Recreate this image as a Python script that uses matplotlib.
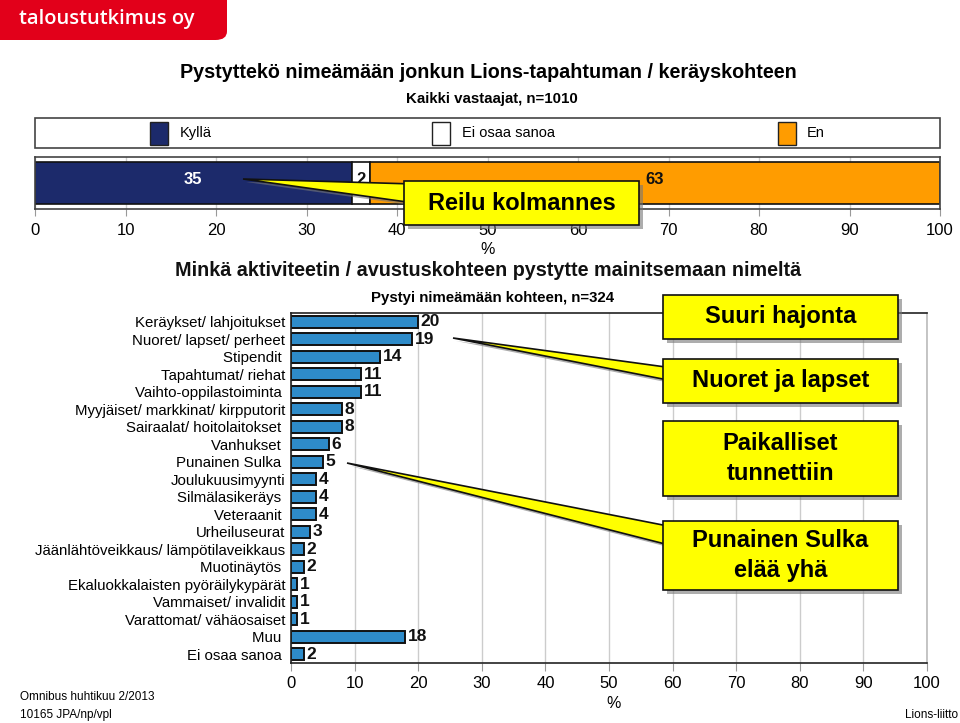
import matplotlib
matplotlib.use("Agg")
from matplotlib import pyplot as plt
from matplotlib.patches import Rectangle, Polygon, FancyBboxPatch
import numpy as np

W, H = 960, 723

# --- data -------------------------------------------------------------
top_labels = ["Kyllä", "Ei osaa sanoa", "En"]
top_values = [35, 2, 63]

categories = [
    "Keräykset/ lahjoitukset", "Nuoret/ lapset/ perheet", "Stipendit ",
    "Tapahtumat/ riehat", "Vaihto-oppilastoiminta ", "Myyjäiset/ markkinat/ kirpputorit",
    "Sairaalat/ hoitolaitokset ", "Vanhukset ", "Punainen Sulka ", "Joulukuusimyynti",
    "Silmälasikeräys ", "Veteraanit ", "Urheiluseurat",
    "Jäänlähtöveikkaus/ lämpötilaveikkaus", "Muotinäytös ",
    "Ekaluokkalaisten pyöräilykypärät", "Vammaiset/ invalidit",
    "Varattomat/ vähäosaiset", "Muu ", "Ei osaa sanoa ",
]
values = [20, 19, 14, 11, 11, 8, 8, 6, 5, 4, 4, 4, 3, 2, 2, 1, 1, 1, 18, 2]

x_ticks = [0, 10, 20, 30, 40, 50, 60, 70, 80, 90, 100]

# --- styles -------------------------------------------------------------
plt.rcParams['font.family'] = ['Liberation Sans', 'DejaVu Sans']
NARROW = ['Liberation Sans Narrow', 'Liberation Sans', 'DejaVu Sans']
top_colors = ['#1c2a6b', '#ffffff', '#ff9c00']
bar_blue = '#2e8bc9'
yellow = '#ffff00'


def fx(x):
    return x / W


def fy(y):
    return 1 - y / H


def fig_rect(x0, y0, x1, y1):
    # pixel box (top-left origin) -> figure axes rect
    return [fx(x0), fy(y1), fx(x1) - fx(x0), fy(y0) - fy(y1)]


fig = plt.figure(figsize=(W / 100, H / 100), dpi=100)

# logo
fig.patches.append(FancyBboxPatch((fx(-20), fy(40)), fx(247), fy(0) - fy(40) + 0.02,
                                  boxstyle="round,pad=0,rounding_size=0.012",
                                  transform=fig.transFigure, facecolor='#e2001a',
                                  edgecolor='none'))
fig.text(fx(19), fy(19), "taloustutkimus oy", color='white', fontsize=14.5,
         fontweight='semibold', ha='left', va='center', family=['Open Sans', 'DejaVu Sans'])

# titles
fig.text(fx(488), fy(72), "Pystyttekö nimeämään jonkun Lions-tapahtuman / keräyskohteen",
         ha='center', va='center', fontsize=14.2, fontweight='bold')
fig.text(fx(492), fy(99), "Kaikki vastaajat, n=1010", ha='center', va='center',
         fontsize=10.8, fontweight='bold')

# legend box
fig.patches.append(Rectangle((fx(35), fy(148)), fx(905), fy(118) - fy(148),
                             transform=fig.transFigure, facecolor='white',
                             edgecolor='#444444', lw=1.2))
leg_pos = [(150, 180), (432, 462), (778, 807)]
for (mx, tx), lab, col in zip(leg_pos, top_labels, top_colors):
    fig.patches.append(Rectangle((fx(mx), fy(145)), fx(18), fy(122) - fy(145),
                                 transform=fig.transFigure, facecolor=col,
                                 edgecolor='#222222', lw=1))
    fig.text(fx(tx), fy(133), lab, ha='left', va='center', fontsize=10.5, family=NARROW)

# --- top stacked bar -------------------------------------------------------
ax1 = fig.add_axes(fig_rect(35, 157, 940, 209))
left = 0
for v, col, lab in zip(top_values, top_colors, top_labels):
    ax1.barh(0, v, left=left, height=0.8, color=col, edgecolor='#111111', lw=1.2)
    txt_col = 'white' if lab == 'Kyllä' else '#111111'
    ax1.text(left + v / 2, 0.07, str(v), ha='center', va='center', color=txt_col,
             fontsize=12, fontweight='bold', family=NARROW)
    left += v
ax1.set_xlim(0, 100)
ax1.set_ylim(-0.5, 0.5)
ax1.set_yticks([])
ax1.set_xticks(x_ticks)
ax1.set_xticklabels([str(t) for t in x_ticks], family=NARROW, fontsize=12)
ax1.tick_params(axis='x', length=5, color='#999999', pad=5)
ax1.grid(axis='x', color='#cccccc', lw=1)
ax1.set_axisbelow(True)
for s in ax1.spines.values():
    s.set_color('#444444')
    s.set_linewidth(1.2)
fig.text(fx(488), fy(249), "%", ha='center', va='center', fontsize=11.5, family=NARROW)

fig.text(fx(488), fy(271), "Minkä aktiviteetin / avustuskohteen pystytte mainitsemaan nimeltä",
         ha='center', va='center', fontsize=14.2, fontweight='bold', color='#111111')
fig.text(fx(493), fy(298), "Pystyi nimeämään kohteen, n=324", ha='center', va='center',
         fontsize=10.8, fontweight='bold')

# --- bottom horizontal bars ---------------------------------------------
ax2 = fig.add_axes(fig_rect(291, 313, 927, 663))
y = np.arange(len(categories))
ax2.barh(y, values, height=0.7, color=bar_blue, edgecolor='#111111', lw=1.4)
for yi, v in zip(y, values):
    ax2.text(v + 0.4, yi, str(v), ha='left', va='center', fontsize=12.5,
             fontweight='bold', color='#111111')
ax2.set_ylim(len(categories) - 0.5, -0.5)
ax2.set_xlim(0, 100)
ax2.set_yticks(y)
ax2.set_yticklabels(categories, fontsize=10.8)
ax2.tick_params(axis='y', length=0, pad=4)
ax2.set_xticks(x_ticks)
ax2.set_xticklabels([str(t) for t in x_ticks], family=NARROW, fontsize=12)
ax2.tick_params(axis='x', length=6, color='#999999', pad=3)
ax2.grid(axis='x', color='#cccccc', lw=1)
ax2.set_axisbelow(True)
for name, s in ax2.spines.items():
    s.set_color('#222222' if name != 'right' else '#bbbbbb')
    s.set_linewidth(1.2)
fig.text(fx(614), fy(703), "%", ha='center', va='center', fontsize=11.5, family=NARROW)

# footer
fig.text(fx(20), fy(697), "Omnibus huhtikuu 2/2013", ha='left', va='center',
         fontsize=8.5, family=NARROW)
fig.text(fx(20), fy(715), "10165 JPA/np/vpl", ha='left', va='center', fontsize=8.5,
         family=NARROW)
fig.text(fx(958), fy(715), "Lions-liitto", ha='right', va='center', fontsize=8.5,
         family=NARROW)


# --- callouts -------------------------------------------------------------
def callout(box, text, size, tip=None, base=None):
    x0, y0, x1, y1 = box
    z = 10
    if tip is not None:
        pts = [tip, (x0 + 10, base[0]), (x0 + 10, base[1])]
        sh = [(px + 3, py + 3) for px, py in pts]
        fig.patches.append(Polygon([(fx(a), fy(b)) for a, b in sh], closed=True,
                                   transform=fig.transFigure, facecolor='#777777',
                                   edgecolor='none', alpha=0.6, zorder=z))
        fig.patches.append(Polygon([(fx(a), fy(b)) for a, b in pts], closed=True,
                                   transform=fig.transFigure, facecolor=yellow,
                                   edgecolor='#111111', lw=1.2, zorder=z + 1))
    fig.patches.append(Rectangle((fx(x0 + 4), fy(y1 + 4)), fx(x1 - x0), fy(y0) - fy(y1),
                                 transform=fig.transFigure, facecolor='#777777',
                                 edgecolor='none', alpha=0.6, zorder=z + 2))
    fig.patches.append(Rectangle((fx(x0), fy(y1)), fx(x1 - x0), fy(y0) - fy(y1),
                                 transform=fig.transFigure, facecolor=yellow,
                                 edgecolor='#111111', lw=1.2, zorder=z + 3))
    fig.text(fx((x0 + x1) / 2), fy((y0 + y1) / 2), text, ha='center', va='center',
             fontsize=size, fontweight='bold', linespacing=1.4, zorder=z + 4)


callout((404, 181, 639, 225), "Reilu kolmannes", 17, tip=(243, 179), base=(184, 203))
callout((663, 295, 898, 339), "Suuri hajonta", 17)
callout((663, 359, 898, 403), "Nuoret ja lapset", 17, tip=(453, 338), base=(368, 381))
callout((663, 421, 898, 496), "Paikalliset\ntunnettiin", 17)
callout((663, 521, 898, 590), "Punainen Sulka\nelää yhä", 17, tip=(347, 463), base=(527, 546))

fig.savefig("out.png", dpi=100)
